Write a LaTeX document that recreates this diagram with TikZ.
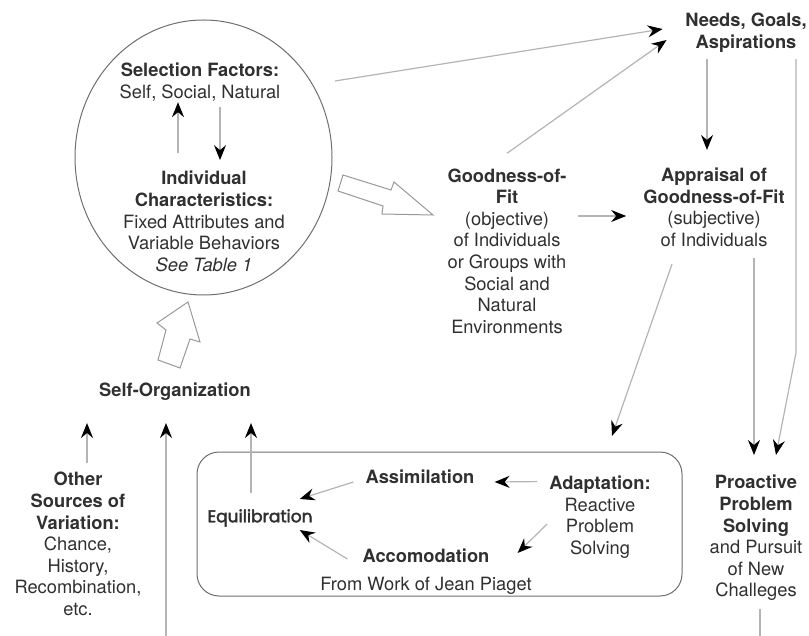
\documentclass[tikz,border=0pt]{standalone}
\usepackage{fontspec}
\setmainfont{TeX Gyre Heros}
\newfontfamily\geofont{Poppins}[FakeBold=2.5]
\usetikzlibrary{arrows.meta,calc,shapes.geometric}
\definecolor{ink}{HTML}{303030}
\definecolor{wire}{HTML}{B4B4B4}
\definecolor{rim}{HTML}{6E6E6E}

\begin{document}
\begin{tikzpicture}[x=1pt, y=-1pt,
    txt/.style={align=center, inner sep=0pt, text=ink, font=\fontsize{18.3}{21.6}\selectfont},
    arr/.style={draw=wire, line width=1.2pt, -{Stealth[color=black, length=15pt, width=12pt, inset=5pt]}},
    link/.style={draw=wire, line width=1.2pt},
    hollow/.style={draw=wire!85!black, line width=1pt, fill=white, line join=miter},
    rim/.style={draw=rim, line width=1pt}]

    \useasboundingbox (0,0) rectangle (809,636);

    % circle with selection and characteristics
    \node[rim, ellipse, inner sep=0pt, minimum width=257pt, minimum height=275pt] (circ) at (203.5,157.5) {};
    \node[txt] (sel) at (200,82) {\textbf{Selection Factors:}\\Self, Social, Natural};
    \node[txt] (ind) at (204,221.5) {\textbf{Individual}\\\textbf{Characteristics:}\\Fixed Attributes and\\Variable Behaviors\\\textit{See Table 1}};
    \draw[arr] ($(ind.north)+(-26,-18)$) -- ($(sel.south)+(-22,1)$);
    \draw[arr] ($(sel.south)+(20,6)$) -- ($(ind.north)+(16,-11)$);

    % right column
    \node[txt] (needs) at (746,33) {\textbf{Needs, Goals,}\\\textbf{Aspirations}};
    \node[txt] (gof) at (507,251) {\textbf{Goodness-of-}\\\textbf{Fit}\\(objective)\\of Individuals\\or Groups with\\Social and\\Natural\\Environments};
    \node[txt] (apprais) at (714,207.5) {\textbf{Appraisal of}\\\textbf{Goodness-of-Fit}\\(subjective)\\of Individuals};
    \node[txt] (proact) at (756,538) {\textbf{Proactive}\\\textbf{Problem}\\\textbf{Solving}\\and Pursuit\\of New\\Challeges};

    \draw[hollow] (343,175) -- (391,190) -- (394,182) -- (433,215) -- (382,214) -- (383,206) -- (338,191) -- cycle;
    \draw[arr] ($(circ.center)+(131.5,-76.5)$) -- ($(needs.west)+(-22.5,-4)$);
    \draw[arr] ($(gof.north)+(0,-15)$) -- ($(needs.west)+(-18.5,7)$);
    \draw[arr] ($(needs.south)+(-39,6)$) -- ($(apprais.north)+(-7,-18)$);
    \draw[arr] ($(gof.east|-apprais.west)+(11.5,8.5)$) -- ($(apprais.west)+(-17,8.5)$);
    \draw[arr] ($(apprais.south)+(-42,17)$) -- ($(proact.north)+(-144,-39)$);
    \draw[arr] ($(apprais.south)+(40,11)$) -- ($(proact.north)+(-2,-20)$);
    \draw[arr] ($(needs.south)+(50,6)$) -- ++(0,294) -- ($(proact.north)+(20,-20)$);
    \coordinate (loopr) at (760,636);
    \draw[link] ($(proact.south)+(4,8)$) -- (loopr);

    % self-organization and its sources
    \node[txt] (selforg) at (175,392) {\textbf{Self-Organization}};
    \node[txt] (other) at (78,544) {\textbf{Other}\\\textbf{Sources of}\\\textbf{Variation:}\\Chance,\\History,\\Recombination,\\etc.};
    \draw[hollow] (188,302) -- (200,342) -- (190,339) -- (180,368) -- (158,360) -- (166,330) -- (157,323) -- cycle;
    \draw[arr] ($(other.north)+(9,-9)$) -- ($(selforg.south)+(-88,22)$);
    \coordinate (loopl) at (166,636);
    \draw[arr] (loopl) -- ($(selforg.south)+(-9,22)$);

    % Piaget box
    \draw[rim, rounded corners=22pt] (197,452) rectangle (682,596);
    \node[txt, font=\geofont\fontsize{17}{21}\selectfont] (equil) at (260,518) {Equilibration};
    \node[txt] (assim) at (420,477) {\textbf{Assimilation}};
    \node[txt] (accom) at (426,556) {\textbf{Accomodation}};
    \node[txt] (piaget) at (426,586) {From Work of Jean Piaget};
    \node[txt] (adapt) at (600,517) {\textbf{Adaptation:}\\Reactive\\Problem\\Solving};
    \draw[arr] ($(equil.north)+(-9,-16)$) -- ($(selforg.south)+(76,22)$);
    \draw[arr] ($(adapt.north west)+(-12,6)$) -- ($(assim.east)+(20,5)$);
    \draw[arr] ($(adapt.west)+(-2,7)$) -- ($(accom.east)+(28,-3)$);
    \draw[arr] ($(assim.west)+(-12,5)$) -- ($(equil.east)+(-13,-19)$);
    \draw[arr] ($(accom.west)+(-15,3)$) -- ($(equil.east)+(-13,12)$);
\end{tikzpicture}
\end{document}
